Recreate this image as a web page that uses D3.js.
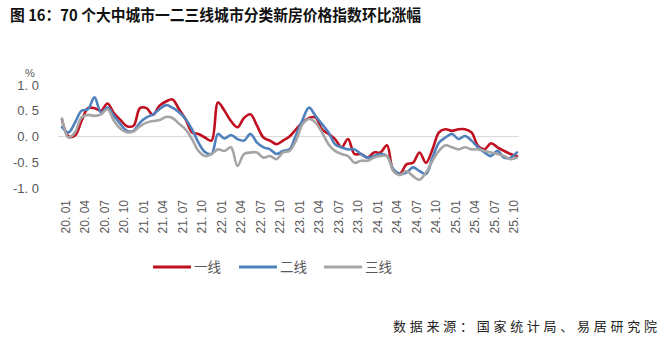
<!DOCTYPE html>
<html><head><meta charset="utf-8">
<script src="https://cdn.jsdelivr.net/npm/d3@7"></script>
<style>
html,body{margin:0;padding:0;background:#fff;}
svg{display:block;}
</style></head>
<body>
<script>
// Months 2020.01 - 2025.11
const years = [20,21,22,23,24,25];
const months = [];
years.forEach(y => { for (let m = 1; m <= 12; m++) { if (y === 25 && m > 11) break; months.push(y + ". " + String(m).padStart(2,"0")); } });
const tickLabels = months.filter((d,i) => i % 3 === 0);
const seriesNames = ["一线","二线","三线"];
const tier1 = [0.33,0.0,0.02,0.3,0.55,0.55,0.5,0.64,0.45,0.32,0.2,0.21,0.55,0.55,0.42,0.6,0.68,0.72,
  0.53,0.34,0.08,0.05,-0.02,-0.08,0.66,0.5,0.3,0.18,0.36,0.43,0.21,-0.02,-0.08,-0.15,-0.08,0.0,
  0.14,0.27,0.36,0.37,0.14,0.05,-0.05,-0.21,-0.05,-0.34,-0.34,-0.41,-0.31,-0.31,-0.17,-0.67,-0.72,
  -0.54,-0.51,-0.31,-0.51,-0.25,0.08,0.14,0.11,0.14,0.14,0.08,-0.18,-0.25,-0.13,-0.21,-0.28,-0.34,-0.38];
const tier2 = [0.18,0.08,0.27,0.5,0.53,0.76,0.47,0.56,0.4,0.24,0.11,0.11,0.27,0.37,0.43,0.53,0.61,0.56,
  0.47,0.34,0.14,-0.12,-0.3,-0.34,0.05,-0.04,0.03,-0.05,-0.08,0.05,-0.12,-0.21,-0.25,-0.34,-0.28,-0.25,
  0.03,0.32,0.56,0.4,0.24,0.08,-0.15,-0.21,-0.25,-0.25,-0.34,-0.41,-0.38,-0.34,-0.38,-0.64,-0.73,
  -0.7,-0.6,-0.67,-0.73,-0.41,-0.12,-0.02,0.05,-0.05,0.01,-0.08,-0.21,-0.31,-0.38,-0.28,-0.41,-0.41,-0.31];
const tier3 = [0.35,-0.02,0.08,0.37,0.42,0.4,0.43,0.53,0.3,0.15,0.08,0.1,0.2,0.27,0.3,0.32,0.38,0.36,
  0.25,0.14,-0.05,-0.28,-0.38,-0.34,-0.25,-0.28,-0.21,-0.57,-0.34,-0.31,-0.31,-0.41,-0.38,-0.44,-0.31,-0.28,
  -0.08,0.24,0.34,0.27,0.08,-0.15,-0.28,-0.34,-0.38,-0.51,-0.47,-0.47,-0.41,-0.38,-0.38,-0.67,-0.75,
  -0.67,-0.77,-0.84,-0.7,-0.47,-0.28,-0.17,-0.21,-0.25,-0.21,-0.25,-0.25,-0.28,-0.31,-0.34,-0.38,-0.44,-0.41];
const yTicks = [1.0,0.5,0.0,-0.5,-1.0];
const colors = ["#C00F1E","#4F81BD","#A5A5A5"];

const W = 660, H = 342;
const svg = d3.select("body").append("svg").attr("width", W).attr("height", H);

svg.append("text").attr("x", 10).attr("y", 21)
  .attr("font-family", "'Noto Sans CJK SC', sans-serif").attr("font-weight", 700)
  .attr("font-size", 15.5).attr("fill", "#111")
  .attr("textLength", 411).attr("lengthAdjust", "spacingAndGlyphs")
  .text("图 16：70 个大中城市一二三线城市分类新房价格指数环比涨幅");

const x = d3.scalePoint().domain(months).range([62, 517]);
const y = d3.scaleLinear().domain([-1, 1]).range([188, 85]);

// zero line
svg.append("line").attr("x1", 58).attr("x2", 519).attr("y1", y(0)).attr("y2", y(0))
  .attr("stroke", "#D9D9D9").attr("stroke-width", 1);

// y axis labels
const yAxis = d3.axisLeft(y).tickValues(yTicks).tickSize(0).tickPadding(0)
  .tickFormat(d => { const s = d3.format(".1f")(Math.abs(d)).replace(".", ". "); return (d < 0 ? "-" : "") + s; });
const gy = svg.append("g").attr("transform", "translate(39,0)").call(yAxis);
gy.select(".domain").remove();
gy.selectAll("text").attr("font-family", "Arial, 'Liberation Sans', sans-serif").attr("font-size", 13).attr("fill", "#595959");

svg.append("text").attr("x", 30).attr("y", 77).attr("text-anchor", "middle")
  .attr("font-family", "Arial, 'Liberation Sans', sans-serif").attr("font-size", 11).attr("fill", "#595959").text("%");

// x axis labels
const xAxis = d3.axisBottom(x).tickValues(tickLabels).tickSize(0).tickPadding(0);
const gx = svg.append("g").attr("transform", "translate(0,200)").call(xAxis);
gx.select(".domain").remove();
gx.selectAll("text")
  .attr("font-family", "Arial, 'Liberation Sans', sans-serif").attr("font-size", 12).attr("fill", "#595959")
  .attr("text-anchor", "end").attr("dy", null).attr("y", 0)
  .attr("transform", "translate(3,0) rotate(-90)").attr("dx", 0).attr("dy", "0.35em");

// lines
const line = d3.line().x((d, i) => x(months[i])).y(d => y(d)).curve(d3.curveCatmullRom.alpha(0.5));
[tier1, tier2, tier3].forEach((s, k) => {
  svg.append("path").datum(s).attr("d", line).attr("fill", "none")
    .attr("stroke", colors[k]).attr("stroke-width", 2.6).attr("stroke-linejoin", "round").attr("stroke-linecap", "round");
});

// legend
const legX = [153, 239, 324];
seriesNames.forEach((n, k) => {
  svg.append("line").attr("x1", legX[k]).attr("x2", legX[k] + 38).attr("y1", 267).attr("y2", 267)
    .attr("stroke", colors[k]).attr("stroke-width", 3);
  svg.append("text").attr("x", legX[k] + 41).attr("y", 272)
    .attr("font-family", "'Noto Sans CJK SC', sans-serif").attr("font-size", 13.5).attr("fill", "#595959").text(n);
});

// source
svg.append("text").attr("x", 393).attr("y", 331)
  .attr("font-family", "'Noto Sans CJK SC', sans-serif").attr("font-size", 13).attr("fill", "#222")
  .attr("textLength", 264).attr("lengthAdjust", "spacing")
  .text("数据来源：国家统计局、易居研究院");
</script>
</body></html>
